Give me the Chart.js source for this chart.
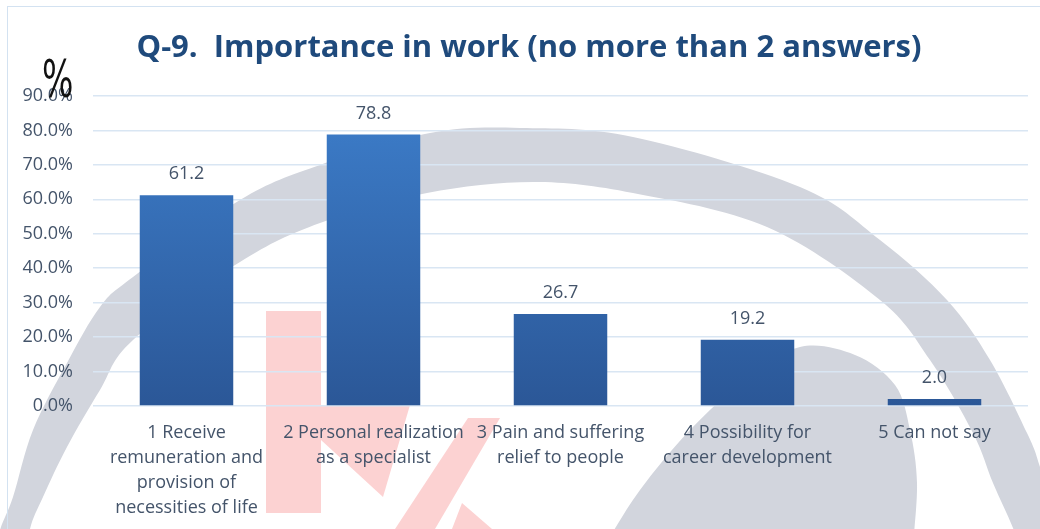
<!DOCTYPE html>
<html>
<head>
<meta charset="utf-8">
<script src="https://cdn.jsdelivr.net/npm/chart.js@4/dist/chart.umd.min.js"></script>
<style>
  html, body { margin: 0; padding: 0; background: #fff; }
  #wrap { position: relative; width: 1040px; height: 529px; overflow: hidden; }
  #pct {
    position: absolute; left: 42px; top: 54px;
    font-family: 'Liberation Sans Narrow', 'DejaVu Sans Condensed', sans-serif;
    font-size: 51px; line-height: 1; color: #111;
    transform: scaleX(0.72); transform-origin: left top;
  }
</style>
</head>
<body>
<div id="wrap">
  <canvas id="chart" width="1040" height="529"></canvas>
  <div id="pct">%</div>
</div>
<script>
// Q-9 answers, share of respondents (%)
const TITLE = 'Q-9.  Importance in work (no more than 2 answers)';
const CATEGORIES = [
  ['1 Receive', 'remuneration and', 'provision of', 'necessities of life'],
  ['2 Personal realization', 'as a specialist'],
  ['3 Pain and suffering', 'relief to people'],
  ['4 Possibility for', 'career development'],
  '5 Can not say'
];
const SHARES = [61.2, 78.8, 26.7, 19.2, 2.0];
const Y_TICKS = [0, 10, 20, 30, 40, 50, 60, 70, 80, 90];

const TEXT_BLUE = '#44546a';
const FONT = "'Open Sans', 'Noto Sans', sans-serif";

// Catmull-Rom through a list of points
function smoothTo(ctx, pts, moveFirst) {
  if (moveFirst) ctx.moveTo(pts[0][0], pts[0][1]);
  else ctx.lineTo(pts[0][0], pts[0][1]);
  for (let i = 0; i < pts.length - 1; i++) {
    const p0 = pts[i - 1] || pts[i], p1 = pts[i], p2 = pts[i + 1], p3 = pts[i + 2] || p2;
    ctx.bezierCurveTo(
      p1[0] + (p2[0] - p0[0]) / 6, p1[1] + (p2[1] - p0[1]) / 6,
      p2[0] - (p3[0] - p1[0]) / 6, p2[1] - (p3[1] - p1[1]) / 6,
      p2[0], p2[1]);
  }
}

// faint emblem behind the plot + light frame
const emblem = {
  id: 'emblem',
  beforeDraw(chart) {
    const ctx = chart.ctx;
    ctx.save();
    ctx.fillStyle = '#d2d5dd';
    // big sweep
    ctx.beginPath();
    smoothTo(ctx, [[-10, 570], [0, 530], [13, 497], [33, 430], [67, 363], [100, 307], [133, 277],
      [240, 200], [320, 165], [430, 133], [520, 128], [633, 137], [800, 187], [880, 240],
      [947, 300], [990, 360], [1027, 433], [1040, 467], [1060, 540]], true);
    smoothTo(ctx, [[1028, 570], [1013, 528], [993, 483], [973, 433], [930, 360], [880, 300],
      [767, 227], [633, 193], [533, 182], [427, 193], [320, 223], [240, 262], [133, 340],
      [100, 390], [67, 447], [43, 497], [30, 529], [25, 570]], false);
    ctx.closePath();
    ctx.fill();
    // inner lobe
    ctx.beginPath();
    smoothTo(ctx, [[605, 545], [640, 490], [690, 430], [745, 380], [800, 347], [855, 355],
      [895, 385], [910, 430], [917, 483], [913, 545]], true);
    ctx.closePath();
    ctx.fill();
    // red mark
    ctx.fillStyle = '#fcd2d2';
    ctx.fillRect(266, 311, 55, 202);
    ctx.beginPath();
    ctx.moveTo(321, 405); ctx.lineTo(410, 405); ctx.lineTo(383, 497); ctx.lineTo(321, 440);
    ctx.closePath(); ctx.fill();
    ctx.beginPath();
    ctx.moveTo(468, 418); ctx.lineTo(500, 418); ctx.lineTo(435, 529); ctx.lineTo(395, 529);
    ctx.closePath(); ctx.fill();
    ctx.beginPath();
    ctx.moveTo(462, 503); ctx.lineTo(492, 529); ctx.lineTo(452, 529);
    ctx.closePath(); ctx.fill();
    // frame
    ctx.strokeStyle = '#d3e2f1';
    ctx.lineWidth = 1;
    ctx.strokeRect(7.5, 6.5, 1100, 600);
    ctx.restore();
  }
};

// heading, centred a little right of the canvas middle
const heading = {
  id: 'heading',
  afterDraw(chart) {
    const ctx = chart.ctx;
    ctx.save();
    ctx.font = 'bold 31px ' + FONT;
    ctx.fillStyle = '#1f4a7c';
    ctx.textAlign = 'center';
    ctx.textBaseline = 'middle';
    ctx.fillText(TITLE, 529, 48);
    ctx.restore();
  }
};

// value above each bar
const barValues = {
  id: 'barValues',
  afterDatasetsDraw(chart) {
    const ctx = chart.ctx;
    ctx.save();
    ctx.font = '18px ' + FONT;
    ctx.fillStyle = TEXT_BLUE;
    ctx.textAlign = 'center';
    ctx.textBaseline = 'middle';
    chart.getDatasetMeta(0).data.forEach((bar, i) => {
      ctx.fillText(SHARES[i].toFixed(1), bar.x, bar.y - 21);
    });
    ctx.restore();
  }
};

function barFill(context) {
  const area = context.chart.chartArea;
  if (!area) return '#3371bb';
  const g = context.chart.ctx.createLinearGradient(0, area.top, 0, area.bottom);
  g.addColorStop(0, '#3d7ecb');
  g.addColorStop(1, '#2b5797');
  return g;
}

new Chart(document.getElementById('chart'), {
  type: 'bar',
  data: {
    labels: CATEGORIES,
    datasets: [{
      data: SHARES,
      backgroundColor: barFill,
      borderWidth: 0,
      categoryPercentage: 1,
      barPercentage: 0.5
    }]
  },
  options: {
    responsive: false,
    animation: false,
    layout: { padding: { left: 0, right: 12, top: 96, bottom: 0 } },
    plugins: {
      legend: { display: false },
      tooltip: { enabled: false },
      title: { display: false }
    },
    scales: {
      x: {
        grid: { display: false },
        border: { display: false },
        ticks: {
          color: TEXT_BLUE,
          font: { family: FONT, size: 18, lineHeight: 1.39 },
          padding: 6,
          maxRotation: 0,
          autoSkip: false
        },
        afterFit: s => { s.height = 123; }
      },
      y: {
        min: 0,
        max: 90,
        afterBuildTicks: s => { s.ticks = Y_TICKS.map(v => ({ value: v })); },
        grid: { color: '#d9e6f3', lineWidth: 1.5, drawTicks: false },
        border: { display: false },
        ticks: {
          color: TEXT_BLUE,
          font: { family: FONT, size: 18 },
          padding: 20,
          callback: v => v.toFixed(1) + '%'
        },
        afterFit: s => { s.width = 93; }
      }
    }
  },
  plugins: [emblem, heading, barValues]
});
</script>
</body>
</html>
